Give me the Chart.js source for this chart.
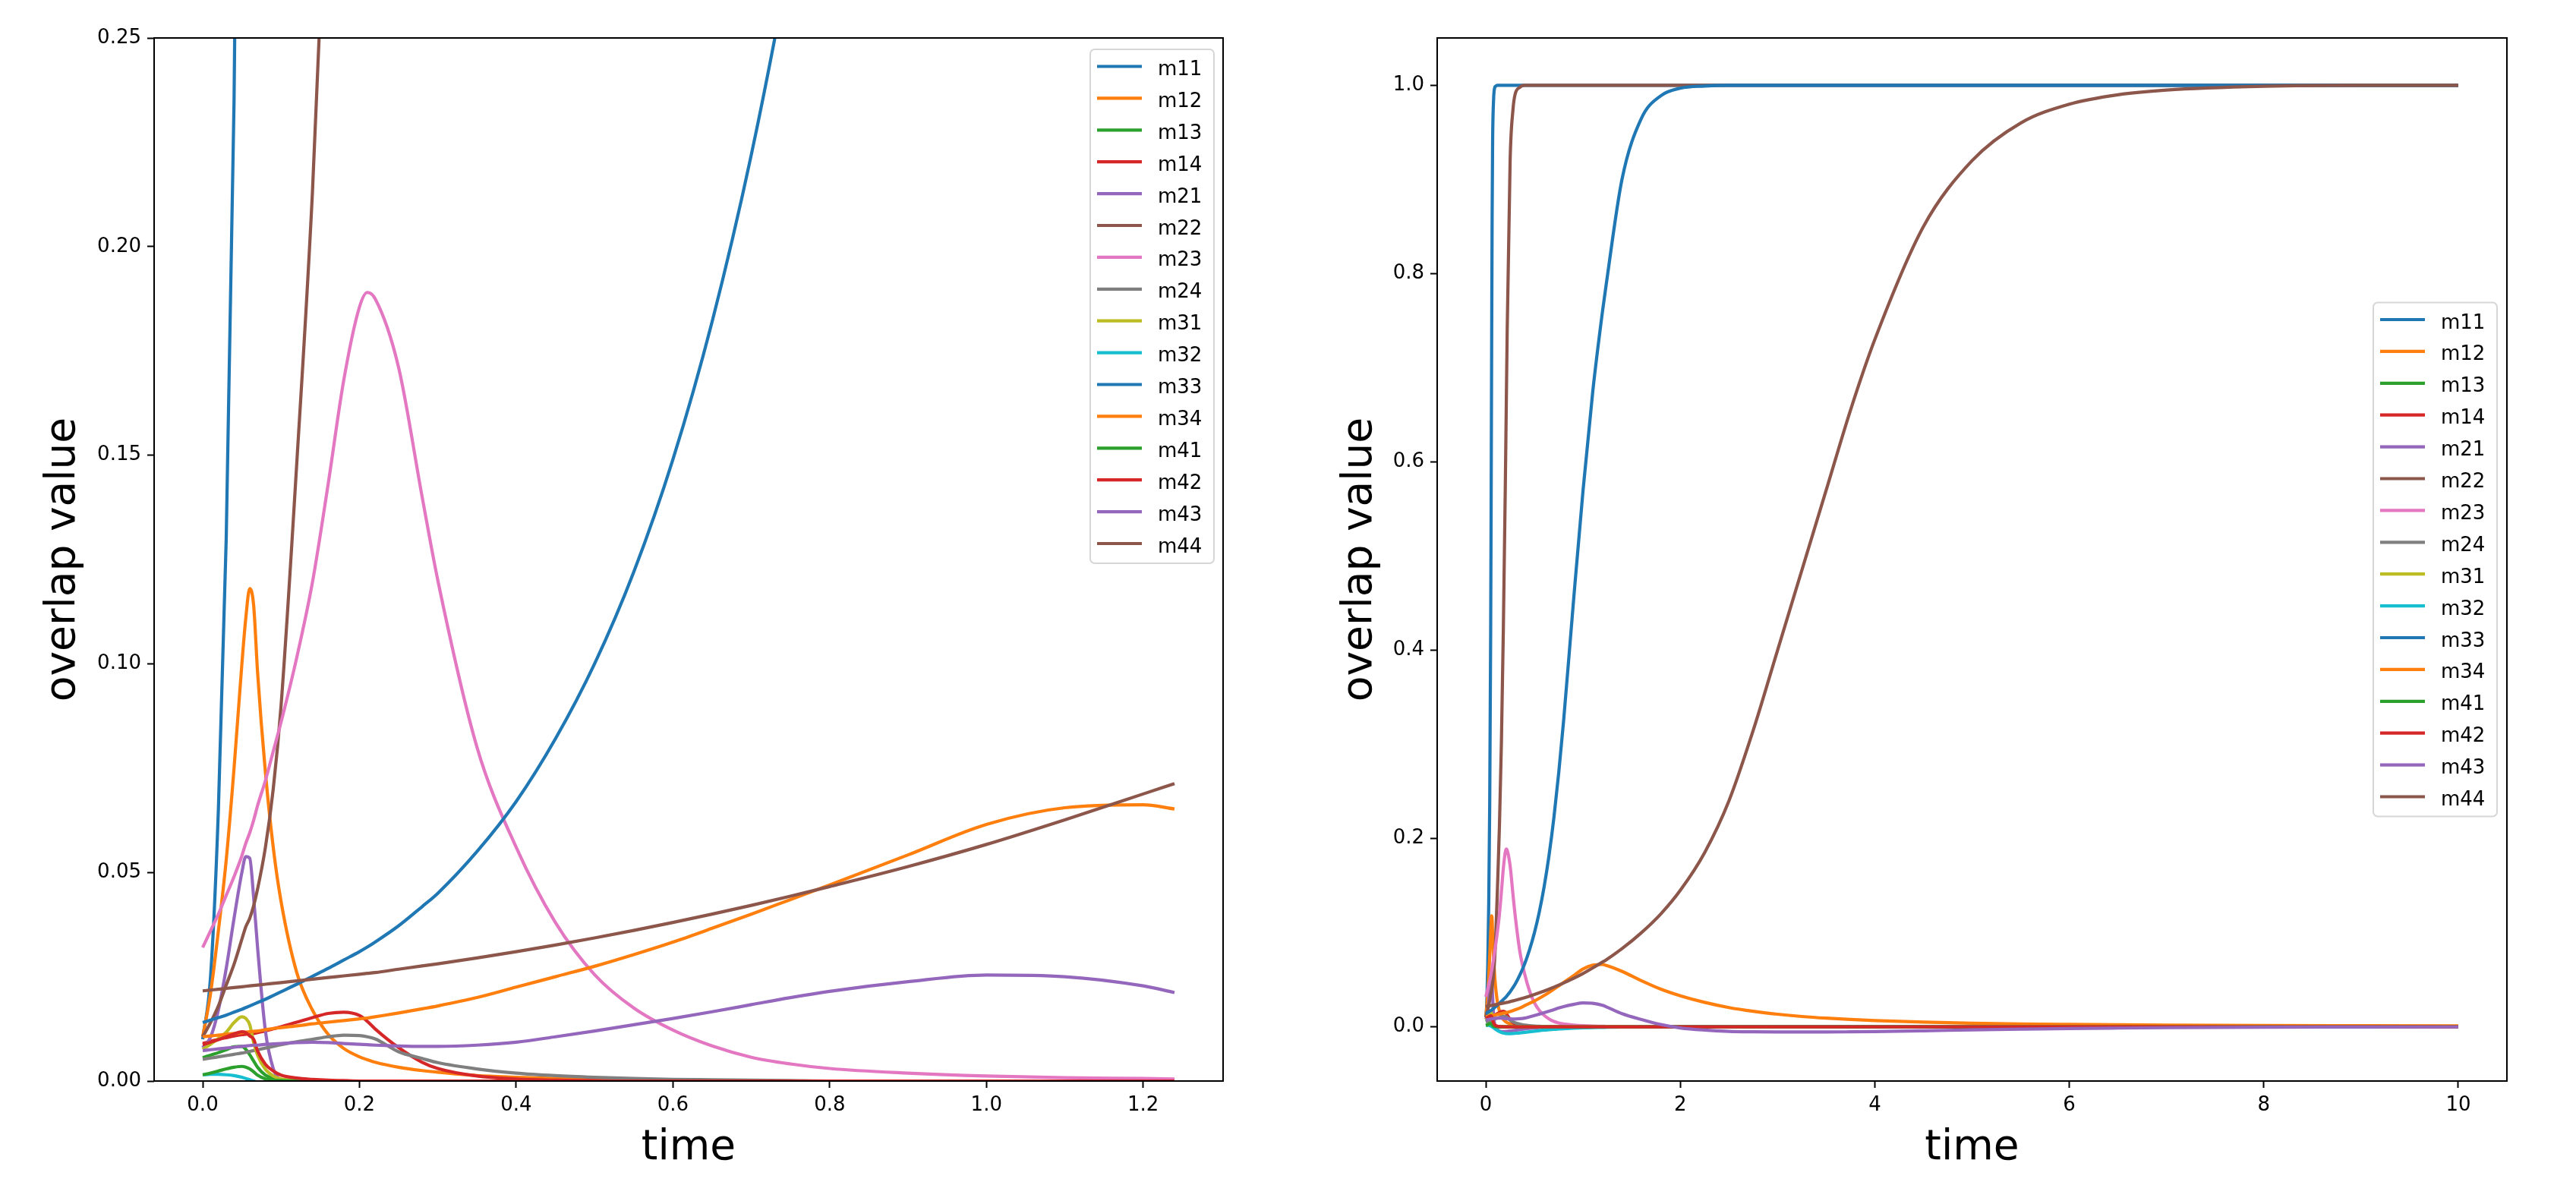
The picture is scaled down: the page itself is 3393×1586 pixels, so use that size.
<!DOCTYPE html>
<html><head><meta charset="utf-8">
<script src="https://cdn.jsdelivr.net/npm/chart.js@4/dist/chart.umd.min.js"></script>
<style>
html,body{margin:0;padding:0;background:#fff;}
#wrap{position:relative;width:3393px;height:1586px;background:#fff;}
canvas{position:absolute;top:0;}
</style></head><body>
<div id="wrap">
<canvas id="leftChart" width="1700" height="1586" style="left:0px"></canvas>
<canvas id="rightChart" width="1693" height="1586" style="left:1700px"></canvas>
</div>
<script>
// ---------- data ----------
const time = [
  0, 0.01, 0.02, 0.03, 0.04, 0.05, 0.055, 0.06, 0.065, 0.07, 0.08, 0.09, 0.1,
  0.12, 0.14, 0.16, 0.18, 0.2, 0.21, 0.22, 0.25, 0.28, 0.3,
  0.35, 0.4, 0.45, 0.5, 0.55, 0.6, 0.65, 0.7, 0.75, 0.8, 0.9, 1.0, 1.1, 1.2, 1.24,
  1.4, 1.6, 1.8, 2.0, 2.25, 2.5, 2.75, 3.0, 3.25, 3.5, 3.75, 4.0, 4.5, 5.0, 5.5, 6.0, 6.5, 7.0, 8.0, 9.0, 10.0
];
const m11 = [
  0.010, 0.025, 0.065, 0.130, 0.235, 0.420, 0.560, 0.720, 0.860, 0.940, 0.985, 0.997, 0.999,
  1, 1, 1, 1, 1, 1, 1, 1, 1, 1,
  1, 1, 1, 1, 1, 1, 1, 1, 1, 1, 1, 1, 1, 1, 1,
  1, 1, 1, 1, 1, 1, 1, 1, 1, 1, 1, 1, 1, 1, 1, 1, 1, 1, 1, 1, 1
];
const m12 = [
  0.0106, 0.021, 0.036, 0.053, 0.075, 0.100, 0.111, 0.118, 0.114, 0.098, 0.074, 0.056, 0.043,
  0.026, 0.017, 0.0112, 0.0078, 0.0058, 0.0051, 0.0045, 0.0033, 0.0025, 0.0021,
  0.0013, 0.0009, 0.0006, 0.0004, 0.0003, 0.0002, 0.0001, 0, 0, 0, 0, 0, 0, 0, 0,
  0, 0, 0, 0, 0, 0, 0, 0, 0, 0, 0, 0, 0, 0, 0, 0, 0, 0, 0, 0, 0
];
const m13 = [
  0.0056, 0.0062, 0.0068, 0.0075, 0.0082, 0.0083, 0.0076, 0.0063, 0.0048, 0.0033, 0.0014, 0.0006, 0.0002,
  0.0001, 0, 0, 0, 0, 0, 0, 0, 0, 0,
  0, 0, 0, 0, 0, 0, 0, 0, 0, 0, 0, 0, 0, 0, 0,
  0, 0, 0, 0, 0, 0, 0, 0, 0, 0, 0, 0, 0, 0, 0, 0, 0, 0, 0, 0, 0
];
const m14 = [
  0.0090, 0.0095, 0.0100, 0.0104, 0.0108, 0.0111, 0.0112, 0.0113, 0.0114, 0.0116, 0.0120, 0.0125, 0.0130,
  0.0141, 0.0152, 0.0162, 0.0165, 0.0157, 0.0143, 0.0125, 0.0080, 0.0045, 0.0030,
  0.0012, 0.0005, 0.0002, 0.0001, 0, 0, 0, 0, 0, 0, 0, 0, 0, 0, 0,
  0, 0, 0, 0, 0, 0, 0, 0, 0, 0, 0, 0, 0, 0, 0, 0, 0, 0, 0, 0, 0
];
const m21 = [
  0.0080, 0.0105, 0.0170, 0.0270, 0.0390, 0.0500, 0.0538, 0.0534, 0.0440, 0.0320, 0.0120, 0.0030, 0.0000,
  -0.0030, -0.0045, -0.0050, -0.0050, -0.0050, -0.0049, -0.0048, -0.0045, -0.0040, -0.0037,
  -0.0030, -0.0023, -0.0017, -0.0012, -0.0008, -0.0005, -0.0003, -0.0002, -0.0001, 0, 0, 0, 0, 0, 0,
  0, 0, 0, 0, 0, 0, 0, 0, 0, 0, 0, 0, 0, 0, 0, 0, 0, 0, 0, 0, 0
];
const m22 = [
  0.0106, 0.014, 0.018, 0.023, 0.028, 0.034, 0.037, 0.039, 0.042, 0.046, 0.056, 0.070, 0.090,
  0.148, 0.213, 0.300, 0.420, 0.570, 0.655, 0.740, 0.920, 0.975, 0.990,
  0.998, 1, 1, 1, 1, 1, 1, 1, 1, 1, 1, 1, 1, 1, 1,
  1, 1, 1, 1, 1, 1, 1, 1, 1, 1, 1, 1, 1, 1, 1, 1, 1, 1, 1, 1, 1
];
const m23 = [
  0.032, 0.036, 0.040, 0.0445, 0.049, 0.054, 0.057, 0.0595, 0.0625, 0.066, 0.072, 0.079, 0.086,
  0.1015, 0.1195, 0.143, 0.168, 0.1855, 0.189, 0.1875, 0.171, 0.140, 0.120,
  0.080, 0.056, 0.038, 0.0255, 0.0175, 0.0122, 0.0084, 0.0057, 0.0041, 0.0030, 0.0019, 0.0012, 0.0008, 0.0006, 0.0005,
  0.0003, 0.0002, 0.0001, 0, 0, 0, 0, 0, 0, 0, 0, 0, 0, 0, 0, 0, 0, 0, 0, 0, 0
];
const m24 = [
  0.0052, 0.0055, 0.0058, 0.0061, 0.0064, 0.0067, 0.0069, 0.0071, 0.0073, 0.0075, 0.0079, 0.0083, 0.0087,
  0.0094, 0.0100, 0.0106, 0.0110, 0.0109, 0.0106, 0.0101, 0.0070, 0.0054, 0.0044,
  0.0029, 0.0019, 0.0013, 0.0009, 0.0006, 0.0004, 0.0003, 0.0002, 0.0001, 0, 0, 0, 0, 0, 0,
  0, 0, 0, 0, 0, 0, 0, 0, 0, 0, 0, 0, 0, 0, 0, 0, 0, 0, 0, 0, 0
];
const m31 = [
  0.0076, 0.0088, 0.0102, 0.0117, 0.0140, 0.0154, 0.0150, 0.0135, 0.0092, 0.0062, 0.0028, 0.0012, 0.0005,
  0.0002, 0.0001, 0, 0, 0, 0, 0, 0, 0, 0,
  0, 0, 0, 0, 0, 0, 0, 0, 0, 0, 0, 0, 0, 0, 0,
  0, 0, 0, 0, 0, 0, 0, 0, 0, 0, 0, 0, 0, 0, 0, 0, 0, 0, 0, 0, 0
];
const m32 = [
  0.0015, 0.0016, 0.0016, 0.0015, 0.0013, 0.0009, 0.0006, 0.0003, 0.0000, -0.0003, -0.0010, -0.0018, -0.0026,
  -0.0040, -0.0051, -0.0060, -0.0066, -0.0070, -0.0071, -0.0072, -0.0072, -0.0071, -0.0069,
  -0.0064, -0.0058, -0.0052, -0.0046, -0.0040, -0.0035, -0.0031, -0.0027, -0.0023, -0.0020, -0.0015, -0.0011, -0.0008, -0.0006, -0.0005,
  -0.0003, -0.0002, -0.0001, 0, 0, 0, 0, 0, 0, 0, 0, 0, 0, 0, 0, 0, 0, 0, 0, 0, 0
];
const m33 = [
  0.0140, 0.0146, 0.0152, 0.0158, 0.0165, 0.0172, 0.0176, 0.0180, 0.0184, 0.0188, 0.0196, 0.0205, 0.0214,
  0.0232, 0.0251, 0.0270, 0.0290, 0.0310, 0.0321, 0.0333, 0.0372, 0.0418, 0.0450,
  0.0550, 0.0670, 0.0820, 0.1000, 0.1220, 0.1490, 0.1820, 0.2220, 0.2700, 0.3250, 0.4500, 0.5700, 0.6750, 0.7600, 0.7900,
  0.9000, 0.9650, 0.9890, 0.9970, 0.9993, 1, 1, 1, 1, 1, 1, 1, 1, 1, 1, 1, 1, 1, 1, 1, 1
];
const m34 = [
  0.0106, 0.0108, 0.0110, 0.0112, 0.0114, 0.0116, 0.0117, 0.0118, 0.0119, 0.0120, 0.0123, 0.0126, 0.0128,
  0.0132, 0.0137, 0.0141, 0.0145, 0.0149, 0.0151, 0.0154, 0.0163, 0.0173, 0.0180,
  0.0200, 0.0225, 0.0250, 0.0275, 0.0303, 0.0333, 0.0366, 0.0400, 0.0435, 0.0470, 0.0542, 0.0615, 0.0655, 0.0662, 0.0652,
  0.0590, 0.0490, 0.0400, 0.0330, 0.0260, 0.0205, 0.0165, 0.0134, 0.0110, 0.0092, 0.0078, 0.0066, 0.0050, 0.0039, 0.0031, 0.0026, 0.0022, 0.0019, 0.0015, 0.0012, 0.0010
];
const m41 = [
  0.0015, 0.0019, 0.0024, 0.0029, 0.0033, 0.0035, 0.0033, 0.0029, 0.0022, 0.0014, 0.0005, 0.0002, 0.0001,
  0, 0, 0, 0, 0, 0, 0, 0, 0, 0,
  0, 0, 0, 0, 0, 0, 0, 0, 0, 0, 0, 0, 0, 0, 0,
  0, 0, 0, 0, 0, 0, 0, 0, 0, 0, 0, 0, 0, 0, 0, 0, 0, 0, 0, 0, 0
];
const m42 = [
  0.0087, 0.0093, 0.0099, 0.0106, 0.0113, 0.0118, 0.0116, 0.0108, 0.0100, 0.0072, 0.0040, 0.0024, 0.0014,
  0.0007, 0.0004, 0.0002, 0.0001, 0, 0, 0, 0, 0, 0,
  0, 0, 0, 0, 0, 0, 0, 0, 0, 0, 0, 0, 0, 0, 0,
  0, 0, 0, 0, 0, 0, 0, 0, 0, 0, 0, 0, 0, 0, 0, 0, 0, 0, 0, 0, 0
];
const m43 = [
  0.0073, 0.0075, 0.0077, 0.0079, 0.0081, 0.0083, 0.0084, 0.0085, 0.0086, 0.0086, 0.0088, 0.0089, 0.0090,
  0.0092, 0.0093, 0.0092, 0.0090, 0.0088, 0.0087, 0.0086, 0.0084, 0.0083, 0.0083,
  0.0086, 0.0093, 0.0106, 0.0120, 0.0135, 0.0150, 0.0166, 0.0183, 0.0200, 0.0215, 0.0238, 0.0254, 0.0250, 0.0228, 0.0212,
  0.0140, 0.0078, 0.0025, -0.0012, -0.0035, -0.0048, -0.0053, -0.0055, -0.0055, -0.0055, -0.0053, -0.0050, -0.0042, -0.0033, -0.0025, -0.0018, -0.0013, -0.0009, -0.0004, -0.0002, -0.0001
];
const m44 = [
  0.0216, 0.0218, 0.0220, 0.0222, 0.0224, 0.0226, 0.0227, 0.0228, 0.0229, 0.0230, 0.0232, 0.0234, 0.0236,
  0.0240, 0.0244, 0.0248, 0.0252, 0.0256, 0.0258, 0.0260, 0.0268, 0.0276, 0.0281,
  0.0295, 0.0310, 0.0326, 0.0343, 0.0361, 0.0380, 0.0400, 0.0421, 0.0443, 0.0466, 0.0514, 0.0567, 0.0626, 0.0688, 0.0713,
  0.0830, 0.1000, 0.1200, 0.1450, 0.1850, 0.2400, 0.3150, 0.4000, 0.4850, 0.5700, 0.6550, 0.7300, 0.8500, 0.9200, 0.9600, 0.9800, 0.9900, 0.9950, 0.9990, 1.0000, 1.0000
];

const seriesNames = ['m11','m12','m13','m14','m21','m22','m23','m24','m31','m32','m33','m34','m41','m42','m43','m44'];
const seriesValues = [m11,m12,m13,m14,m21,m22,m23,m24,m31,m32,m33,m34,m41,m42,m43,m44];
const seriesColors = ['#1f77b4','#ff7f0e','#2ca02c','#d62728','#9467bd','#8c564b','#e377c2','#7f7f7f',
                      '#bcbd22','#17becf','#1f77b4','#ff7f0e','#2ca02c','#d62728','#9467bd','#8c564b'];

const leftTimeLimit = 1.24;
const leftXTicks = [0, 0.2, 0.4, 0.6, 0.8, 1.0, 1.2];
const leftYTicks = [0, 0.05, 0.10, 0.15, 0.20, 0.25];
const leftYRange = [0, 0.25];
const rightXTicks = [0, 2, 4, 6, 8, 10];
const rightYTicks = [0, 0.2, 0.4, 0.6, 0.8, 1.0];
const xLabel = 'time';
const yLabel = 'overlap value';

// ---------- helpers ----------
const FONT = '"DejaVu Sans", "Liberation Sans", sans-serif';
const LINE_W = 4.2;

function buildDatasets(limit) {
  return seriesNames.map((name, i) => ({
    label: name,
    data: time.map((t, k) => ({x: t, y: seriesValues[i][k]})).filter(p => p.x <= limit + 1e-9),
    borderColor: seriesColors[i],
    backgroundColor: seriesColors[i],
    borderWidth: LINE_W,
    pointRadius: 0,
    pointHoverRadius: 0,
    fill: false,
    cubicInterpolationMode: 'monotone',
    clip: 0,
    order: seriesNames.length - i
  }));
}

const framePlugin = {
  id: 'frame',
  afterDatasetsDraw(chart) {
    const {ctx, chartArea: a} = chart;
    ctx.save();
    ctx.strokeStyle = '#000';
    ctx.lineWidth = 2;
    ctx.strokeRect(a.left, a.top, a.right - a.left, a.bottom - a.top);
    ctx.restore();
  }
};

const boxLegendPlugin = {
  id: 'boxLegend',
  afterDraw(chart, args, opts) {
    const {ctx, chartArea: a} = chart;
    const w = 163, h = 677;
    const x0 = a.right - opts.inset - w;
    const y0 = opts.loc === 'upper right' ? a.top + 15 : (a.top + a.bottom) / 2 - h / 2;
    ctx.save();
    ctx.beginPath();
    ctx.roundRect(x0, y0, w, h, 6);
    ctx.fillStyle = 'rgba(255,255,255,0.8)';
    ctx.fill();
    ctx.strokeStyle = '#d6d6d6';
    ctx.lineWidth = 2;
    ctx.stroke();
    ctx.font = '26px ' + FONT;
    ctx.textBaseline = 'alphabetic';
    ctx.textAlign = 'left';
    chart.data.datasets.forEach((ds, i) => {
      const y = y0 + 22.5 + i * 41.9;
      ctx.strokeStyle = ds.borderColor;
      ctx.lineWidth = LINE_W;
      ctx.beginPath();
      ctx.moveTo(x0 + 9, y);
      ctx.lineTo(x0 + 68, y);
      ctx.stroke();
      ctx.fillStyle = '#000';
      ctx.fillText(ds.label, x0 + 89, y + 11.5);
    });
    ctx.restore();
  }
};

function makeChart(canvasId, cfg) {
  const tMin = time[0];
  const tMax = Math.min(cfg.limit, time[time.length - 1]);
  const span = tMax - tMin;
  return new Chart(document.getElementById(canvasId), {
    type: 'line',
    data: {datasets: buildDatasets(cfg.limit)},
    options: {
      responsive: false,
      animation: false,
      devicePixelRatio: 1,
      layout: {padding: {left: 0, top: 50, right: cfg.padRight, bottom: 0}},
      plugins: {
        legend: {display: false},
        tooltip: {enabled: false},
        boxLegend: {loc: cfg.legendLoc, inset: cfg.legendInset}
      },
      scales: {
        x: {
          type: 'linear',
          min: tMin - 0.05 * span,
          max: tMax + 0.05 * span,
          afterBuildTicks: s => { s.ticks = cfg.xTicks.map(v => ({value: v})); },
          afterFit: s => { s.height = 162; },
          border: {display: false},
          grid: {drawOnChartArea: false, drawTicks: true, tickLength: 9, tickWidth: 2, tickColor: '#000'},
          ticks: {
            color: '#000', font: {family: FONT, size: 26}, padding: 8, maxRotation: 0, autoSkip: false,
            callback: v => cfg.xFmt(v)
          },
          title: {display: true, text: xLabel, color: '#000', font: {family: FONT, size: 55},
                  padding: {top: 0, bottom: 40}}
        },
        y: {
          type: 'linear',
          min: cfg.yRange[0],
          max: cfg.yRange[1],
          afterBuildTicks: s => { s.ticks = cfg.yTicks.map(v => ({value: v})); },
          afterFit: s => { s.width = cfg.yAxisWidth; },
          border: {display: false},
          grid: {drawOnChartArea: false, drawTicks: true, tickLength: 9, tickWidth: 2, tickColor: '#000'},
          ticks: {
            color: '#000', font: {family: FONT, size: 26}, padding: 8, autoSkip: false,
            callback: v => cfg.yFmt(v)
          },
          title: {display: true, text: yLabel, color: '#000', font: {family: FONT, size: 55},
                  padding: {top: cfg.yTitlePad, bottom: 0}}
        }
      }
    },
    plugins: [framePlugin, boxLegendPlugin]
  });
}

// right chart y range from data with 5% margins
let dMin = Infinity, dMax = -Infinity;
seriesValues.forEach(arr => arr.forEach(v => { if (v < dMin) dMin = v; if (v > dMax) dMax = v; }));
const rightYRange = [dMin - 0.05 * (dMax - dMin), dMax + 0.05 * (dMax - dMin)];

makeChart('leftChart', {
  limit: leftTimeLimit, padRight: 89, yAxisWidth: 203, yTitlePad: 51,
  xTicks: leftXTicks, yTicks: leftYTicks, yRange: leftYRange,
  xFmt: v => v.toFixed(1), yFmt: v => v.toFixed(2),
  legendLoc: 'upper right', legendInset: 12
});
makeChart('rightChart', {
  limit: Infinity, padRight: 91, yAxisWidth: 193, yTitlePad: 59,
  xTicks: rightXTicks, yTicks: rightYTicks, yRange: rightYRange,
  xFmt: v => v.toFixed(0), yFmt: v => v.toFixed(1),
  legendLoc: 'center right', legendInset: 13
});
</script>
</body></html>
